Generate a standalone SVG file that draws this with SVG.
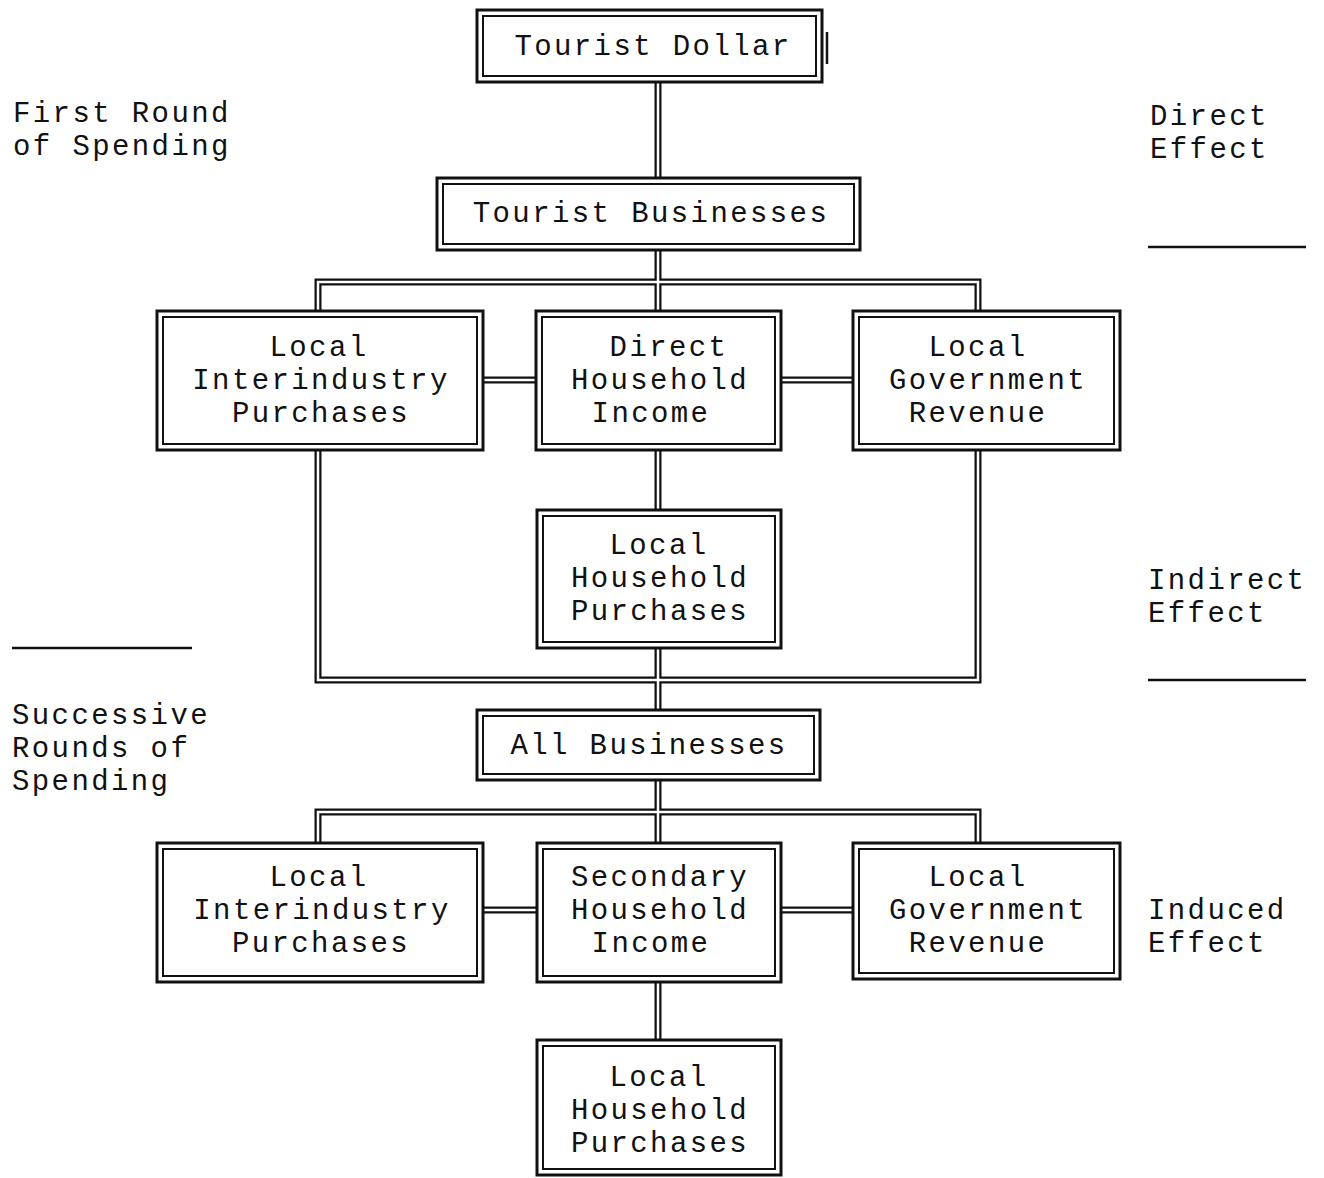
<svg xmlns="http://www.w3.org/2000/svg" width="1324" height="1178" viewBox="0 0 1324 1178">
<style>
.o{fill:#fff;stroke:#111;stroke-width:3}
.i{fill:none;stroke:#111;stroke-width:2}
.t{font-family:"Liberation Mono","Courier New",monospace;font-size:29px;letter-spacing:2.4px;fill:#111;text-anchor:middle}
.s{font-family:"Liberation Mono","Courier New",monospace;font-size:29px;letter-spacing:2.4px;fill:#111}
.cb{fill:none;stroke:#111;stroke-width:7;stroke-linejoin:miter}
.cw{fill:none;stroke:#fff;stroke-width:2.5;stroke-linejoin:miter}
.r{stroke:#111;stroke-width:2.5}
</style>
<rect width="1324" height="1178" fill="#fff"/>
<g id="connectors">
<g class="cb">
<path d="M658 80V180M658 248V284M318 313V282H978V313M658 284V313"/>
<path d="M480 380H540M778 380H856"/>
<path d="M318 448V680H978V448M658 448V512M658 646V712"/>
<path d="M658 778V812M318 845V812H978V845M658 812V845"/>
<path d="M480 910H540M778 910H856"/>
<path d="M658 980V1042"/>
</g>
<g class="cw">
<path d="M658 80V180M658 248V284M318 313V282H978V313M658 284V313"/>
<path d="M480 380H540M778 380H856"/>
<path d="M318 448V680H978V448M658 448V512M658 646V712"/>
<path d="M658 778V812M318 845V812H978V845M658 812V845"/>
<path d="M480 910H540M778 910H856"/>
<path d="M658 980V1042"/>
</g>
</g>
<g id="tourist-dollar"><rect class="o" x="477" y="10" width="345" height="72"/><rect class="i" x="483" y="16" width="333" height="60"/><line class="r" x1="827" y1="32" x2="827" y2="64"/><text class="t" x="653" y="55">Tourist Dollar</text></g>
<g id="tourist-businesses"><rect class="o" x="437" y="178" width="423" height="72"/><rect class="i" x="443" y="184" width="411" height="60"/><text class="t" x="651" y="222">Tourist Businesses</text></g>
<g id="local-interindustry-1"><rect class="o" x="157" y="311" width="326" height="139"/><rect class="i" x="163" y="317" width="314" height="127"/><text class="t"><tspan x="319" y="356">Local</tspan><tspan x="321" y="389">Interindustry</tspan><tspan x="321" y="422">Purchases</tspan></text></g>
<g id="direct-household-income"><rect class="o" x="536" y="311" width="245" height="139"/><rect class="i" x="542" y="317" width="233" height="127"/><text class="t"><tspan x="669" y="356">Direct</tspan><tspan x="660" y="389">Household</tspan><tspan x="651" y="422">Income</tspan></text></g>
<g id="local-government-1"><rect class="o" x="853" y="311" width="267" height="139"/><rect class="i" x="859" y="317" width="255" height="127"/><text class="t"><tspan x="978" y="356">Local</tspan><tspan x="988" y="389">Government</tspan><tspan x="978" y="422">Revenue</tspan></text></g>
<g id="local-household-1"><rect class="o" x="537" y="510" width="244" height="138"/><rect class="i" x="543" y="516" width="232" height="126"/><text class="t"><tspan x="659" y="554">Local</tspan><tspan x="660" y="587">Household</tspan><tspan x="660" y="620">Purchases</tspan></text></g>
<g id="all-businesses"><rect class="o" x="477" y="710" width="343" height="70"/><rect class="i" x="483" y="716" width="331" height="58"/><text class="t" x="649" y="754">All Businesses</text></g>
<g id="local-interindustry-2"><rect class="o" x="157" y="843" width="326" height="139"/><rect class="i" x="163" y="849" width="314" height="127"/><text class="t"><tspan x="319" y="886">Local</tspan><tspan x="322" y="919">Interindustry</tspan><tspan x="321" y="952">Purchases</tspan></text></g>
<g id="secondary-household-income"><rect class="o" x="537" y="843" width="244" height="139"/><rect class="i" x="543" y="849" width="232" height="127"/><text class="t"><tspan x="660" y="886">Secondary</tspan><tspan x="660" y="919">Household</tspan><tspan x="651" y="952">Income</tspan></text></g>
<g id="local-government-2"><rect class="o" x="853" y="843" width="267" height="136"/><rect class="i" x="859" y="849" width="255" height="124"/><text class="t"><tspan x="978" y="886">Local</tspan><tspan x="988" y="919">Government</tspan><tspan x="978" y="952">Revenue</tspan></text></g>
<g id="local-household-2"><rect class="o" x="537" y="1040" width="244" height="135"/><rect class="i" x="543" y="1046" width="232" height="123"/><text class="t"><tspan x="659" y="1086">Local</tspan><tspan x="660" y="1119">Household</tspan><tspan x="660" y="1152">Purchases</tspan></text></g>
<g id="side-labels">
<text class="s" x="13" y="122">First Round</text>
<text class="s" x="13" y="155">of Spending</text>
<text class="s" x="1150" y="125">Direct</text>
<text class="s" x="1150" y="158">Effect</text>
<line class="r" x1="1148" y1="247" x2="1306" y2="247"/>
<text class="s" x="1148" y="589">Indirect</text>
<text class="s" x="1148" y="622">Effect</text>
<line class="r" x1="1148" y1="680" x2="1306" y2="680"/>
<line class="r" x1="12" y1="648" x2="192" y2="648"/>
<text class="s" x="12" y="724">Successive</text>
<text class="s" x="12" y="757">Rounds of</text>
<text class="s" x="12" y="790">Spending</text>
<text class="s" x="1148" y="919">Induced</text>
<text class="s" x="1148" y="952">Effect</text>
</g>
</svg>
